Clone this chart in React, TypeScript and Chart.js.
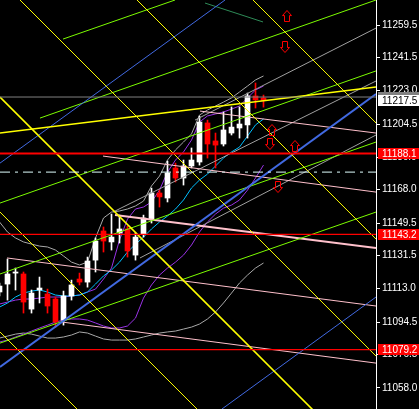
import React, { useEffect, useRef } from "react";
import { Chart, registerables } from "chart.js";

Chart.register(...registerables);

// ---- view range (bar index / price) ----
const X_MIN = 0.0625;
const X_MAX = 47.0625;
const Y_MIN = 11046.2;
const Y_MAX = 11273.4;

const PRICE_TICKS = [11259.5, 11241.5, 11223.0, 11204.5, 11186.0, 11168.0, 11149.5, 11131.5, 11113.0, 11094.5, 11076.5, 11058.0];

// ---- candles (bar index 0..33) ----
const OPEN = [11111.2, 11115.6, 11121.7, 11121.2, 11101.7, 11112.3, 11110.1, 11107.3, 11095.6, 11109.0, 11118.4, 11116.7, 11128.9, 11145.1, 11139.0, 11144.0, 11146.2, 11131.7, 11143.4, 11151.7, 11166.2, 11163.4, 11180.1, 11174.5, 11181.2, 11183.4, 11205.1, 11195.1, 11193.4, 11199.5, 11202.3, 11204.0, 11220.1, 11219.0];
const HIGH = [11116.2, 11129.5, 11124.5, 11122.3, 11112.3, 11119.5, 11112.8, 11108.4, 11111.7, 11117.8, 11121.7, 11130.6, 11141.2, 11147.3, 11154.5, 11153.9, 11147.8, 11144.0, 11153.9, 11168.9, 11167.8, 11183.9, 11182.8, 11184.5, 11191.2, 11208.9, 11206.7, 11199.5, 11211.2, 11214.0, 11214.0, 11221.7, 11227.3, 11220.6];
const LOW = [11109.0, 11106.7, 11112.3, 11099.5, 11099.5, 11105.1, 11099.5, 11091.7, 11092.8, 11106.7, 11115.1, 11113.9, 11122.3, 11133.4, 11134.5, 11138.4, 11130.6, 11128.9, 11141.7, 11149.5, 11158.4, 11161.2, 11172.3, 11170.6, 11180.1, 11181.7, 11185.6, 11180.1, 11192.3, 11198.4, 11196.7, 11196.7, 11213.4, 11213.9];
const CLOSE = [11114.5, 11121.2, 11122.3, 11105.6, 11110.6, 11113.4, 11103.4, 11094.5, 11109.0, 11115.1, 11116.7, 11128.4, 11139.5, 11139.5, 11141.7, 11146.2, 11134.0, 11141.7, 11152.3, 11166.2, 11164.0, 11177.3, 11174.5, 11181.2, 11184.5, 11205.6, 11193.4, 11192.8, 11201.2, 11202.8, 11204.5, 11220.1, 11217.9, 11217.5];

// ---- indicator curves (one value per bar) ----
const GRAY_UPPER = [11150.1, 11144.5, 11141.2, 11139.0, 11137.8, 11136.7, 11136.2, 11134.5, 11131.2, 11127.8, 11126.2, 11127.8, 11141.2, 11152.3, 11155.6, 11156.2, 11157.3, 11159.0, 11161.7, 11170.1, 11175.6, 11184.5, 11190.1, 11194.5, 11199.0, 11209.5, 11212.3, 11214.5, 11216.7, 11219.0, 11222.3, 11225.6, 11229.0, 11231.2];
const GRAY_LOWER = [11085.6, 11086.7, 11087.8, 11088.4, 11087.8, 11086.7, 11085.6, 11085.6, 11086.2, 11087.3, 11089.0, 11088.4, 11086.7, 11085.1, 11084.5, 11084.5, 11084.5, 11085.1, 11086.2, 11087.3, 11088.4, 11089.0, 11089.5, 11090.6, 11091.7, 11093.4, 11096.2, 11100.1, 11105.1, 11110.6, 11116.2, 11120.6, 11124.5, 11127.3];
const CYAN_MA = [11102.8, 11105.1, 11108.4, 11110.6, 11111.7, 11112.3, 11111.2, 11109.5, 11109.0, 11109.0, 11109.5, 11111.2, 11115.6, 11120.1, 11123.4, 11127.8, 11133.4, 11137.8, 11141.7, 11146.2, 11150.1, 11153.4, 11157.3, 11162.3, 11169.0, 11173.4, 11176.7, 11181.2, 11185.6, 11189.0, 11191.7, 11197.8, 11204.0, 11207.3];
const PURPLE_UPPER = [11104.5, 11105.6, 11106.7, 11107.3, 11107.3, 11107.8, 11108.4, 11108.4, 11108.4, 11109.0, 11109.5, 11111.2, 11112.8, 11118.4, 11124.5, 11140.1, 11151.7, 11157.3, 11158.4, 11161.2, 11167.8, 11177.8, 11184.5, 11189.0, 11195.6, 11205.6, 11209.0, 11210.1, 11211.2, 11212.8, 11214.5, 11219.0, 11223.4, 11225.6];
const PURPLE_LOWER = [11083.4, 11084.5, 11086.2, 11087.8, 11089.5, 11091.2, 11092.8, 11094.5, 11095.6, 11096.2, 11096.2, 11095.6, 11094.0, 11092.3, 11091.2, 11091.2, 11092.3, 11096.7, 11107.8, 11115.1, 11120.6, 11124.5, 11127.8, 11131.7, 11137.3, 11144.5, 11150.1, 11154.5, 11157.8, 11159.5, 11162.3, 11167.8, 11174.5, 11181.7];

// ---- drawn objects: [startBar, startPrice, endBar, endPrice] ----
const YELLOW_THIN = [
  [0.0625, 11089.0, 10, 11044.8],
  [0.0625, 11155.6, 25, 11044.8],
  [2.5625, 11273.4, 47.0625, 11075.6],
  [17.19, 11273.4, 47.0625, 11140.6],
  [31.69, 11273.4, 47.0625, 11205.1],
];
const YELLOW_THICK = [
  [0.0625, 11219.5, 39.2, 11045.6],
  [0.0625, 11199.5, 47.0625, 11225.1],
];
const GREEN_LINES = [
  [7.94, 11251.7, 21.94, 11273.4],
  [5.06, 11207.8, 47.0625, 11273.4],
  [0.0625, 11160.6, 47.0625, 11234.0],
  [0.0625, 11121.2, 47.0625, 11194.5],
  [0.0625, 11082.8, 47.0625, 11155.6],
];
const BLUE_THIN = [
  [0.0625, 11182.8, 28.19, 11273.4],
  [27.81, 11046.2, 47.0625, 11108.4],
];
const BLUE_THICK = [[0.0625, 11069.5, 47.0625, 11221.2]];
const PINK_THIN = [
  [25.06, 11211.7, 47.0625, 11199.5],
  [12.94, 11186.7, 47.0625, 11166.7],
  [0.94, 11130.1, 47.0625, 11103.4],
  [7.81, 11094.5, 47.0625, 11071.7],
];
const PINK_THICK = [[14.44, 11154.0, 47.0625, 11135.6]];
const GRAY_LINES = [
  [24.44, 11206.7, 47.0625, 11257.8],
  [14.19, 11155.6, 47.0625, 11228.4],
  [17.56, 11130.1, 47.0625, 11198.4],
];
const DARK_GREEN = [[25.69, 11271.7, 32.94, 11261.2]];

// ---- horizontal levels ----
const RED_LEVELS = [11188.1, 11143.2, 11079.2];
const ASK_LEVEL = 11219.5;
const DASH_LEVEL = 11177.8;
const LAST_PRICE = 11217.5;

// ---- arrows ----
const UP_ARROW_X = [35.9375, 34.0625, 36.9375];
const UP_ARROW_P = [11264.5, 11201.2, 11192.3];
const DOWN_ARROW_X = [35.6875, 33.8125, 34.8125];
const DOWN_ARROW_P = [11247.3, 11193.4, 11169.5];

const FONT = "'Liberation Sans', Arial, sans-serif";

function makeArrow(up: boolean) {
  const c = document.createElement("canvas");
  c.width = 10;
  c.height = 12;
  const g = c.getContext("2d")!;
  g.strokeStyle = "#FF0000";
  g.lineWidth = 1;
  const pts = [[5, 0.5], [9.5, 5.5], [7.5, 5.5], [7.5, 11.5], [2.5, 11.5], [2.5, 5.5], [0.5, 5.5]];
  g.beginPath();
  pts.forEach(([x, y], i) => {
    const yy = up ? y : 12 - y;
    if (i === 0) g.moveTo(x, yy);
    else g.lineTo(x, yy);
  });
  g.closePath();
  g.stroke();
  return c;
}

export default function App() {
  const ref = useRef<HTMLCanvasElement | null>(null);

  useEffect(() => {
    if (!ref.current) return;
    const bars = OPEN.map((_, i) => i);
    const bull = bars.map((i) => CLOSE[i] >= OPEN[i]);
    const candleColor = bull.map((b) => (b ? "#FFFFFF" : "#FF0000"));

    const seg = (r: number[]) => [{ x: r[0], y: r[1] }, { x: r[2], y: r[3] }];
    const lineSet = (rows: number[][], color: string, width: number, order: number) =>
      rows.map((r) => ({
        type: "line" as const,
        data: seg(r),
        borderColor: color,
        borderWidth: width,
        pointRadius: 0,
        fill: false,
        tension: 0,
        order,
      }));
    const curve = (vals: number[], color: string, order: number) => ({
      type: "line" as const,
      data: vals.map((v, i) => ({ x: bars[i], y: v })),
      borderColor: color,
      borderWidth: 1,
      pointRadius: 0,
      fill: false,
      tension: 0,
      order,
    });
    const level = (p: number, color: string, width: number, order: number, dash?: number[]) => ({
      type: "line" as const,
      data: [{ x: X_MIN, y: p }, { x: X_MAX, y: p }],
      borderColor: color,
      borderWidth: width,
      borderDash: dash || [],
      pointRadius: 0,
      fill: false,
      order,
    });

    const upImg = makeArrow(true);
    const downImg = makeArrow(false);

    const datasets: any[] = [
      curve(GRAY_UPPER, "#A9A9A9", 60),
      curve(GRAY_LOWER, "#A9A9A9", 60),
      curve(PURPLE_UPPER, "#9932E6", 59),
      curve(PURPLE_LOWER, "#9932E6", 59),
      curve(CYAN_MA, "#00BFFF", 58),
      {
        type: "bar",
        data: bars.map((i) => ({ x: i, y: [LOW[i], HIGH[i]] })),
        backgroundColor: candleColor,
        barThickness: 1,
        grouped: false,
        borderWidth: 0,
        order: 40,
      },
      {
        type: "bar",
        data: bars.map((i) => ({ x: i, y: [OPEN[i], CLOSE[i]] })),
        backgroundColor: candleColor,
        barThickness: 5,
        grouped: false,
        borderWidth: 0,
        order: 39,
      },
      ...lineSet(DARK_GREEN, "#2E8B57", 1, 30),
      ...lineSet(GRAY_LINES, "#A0A0A0", 1, 29),
      ...lineSet(PINK_THIN, "#FFC0CB", 1, 28),
      ...lineSet(PINK_THICK, "#FFC0CB", 2, 28),
      ...lineSet(GREEN_LINES, "#7CFC00", 1, 27),
      ...lineSet(BLUE_THIN, "#4169E1", 1, 26),
      ...lineSet(BLUE_THICK, "#4169E1", 2, 26),
      ...lineSet(YELLOW_THIN, "#FFFF00", 1, 25),
      ...lineSet(YELLOW_THICK, "#FFFF00", 1.6, 25),
      level(ASK_LEVEL, "#808080", 1, 12),
      level(DASH_LEVEL, "#E0FFFF", 1, 11, [10, 5, 3, 5]),
      ...RED_LEVELS.map((p, i) => level(p, "#FF0000", i === 0 ? 2 : 1.2, 10)),
      {
        type: "scatter",
        data: UP_ARROW_X.map((x, i) => ({ x, y: UP_ARROW_P[i] })),
        pointStyle: upImg,
        pointRadius: 6,
        order: 1,
      },
      {
        type: "scatter",
        data: DOWN_ARROW_X.map((x, i) => ({ x, y: DOWN_ARROW_P[i] })),
        pointStyle: downImg,
        pointRadius: 6,
        order: 1,
      },
    ];

    const boxes = {
      id: "priceBoxes",
      afterDraw(chart: any) {
        const { ctx } = chart;
        const y = chart.scales.y;
        const left = y.left + 2;
        const w = chart.width - left;
        const box = (p: number, bg: string, fg: string | null, text: string) => {
          const py = y.getPixelForValue(p);
          const top = Math.round(py - 5.5);
          ctx.save();
          ctx.fillStyle = bg;
          ctx.fillRect(left, top, w, 11);
          if (fg) {
            ctx.fillStyle = fg;
            ctx.font = `10px ${FONT}`;
            ctx.textAlign = "left";
            ctx.textBaseline = "middle";
            ctx.fillText(text, left + 4, top + 6);
          }
          ctx.restore();
        };
        box(ASK_LEVEL, "#808080", null, "");
        box(LAST_PRICE, "#FFFFFF", "#000000", LAST_PRICE.toFixed(1));
        RED_LEVELS.forEach((p) => box(p, "#FF0000", "#FFFFFF", p.toFixed(1)));
      },
    };

    const chart = new Chart(ref.current, {
      type: "line",
      data: { datasets },
      options: {
        animation: false,
        responsive: false,
        devicePixelRatio: 1,
        events: [],
        layout: { padding: 0, autoPadding: false },
        plugins: { legend: { display: false }, tooltip: { enabled: false } },
        scales: {
          x: {
            type: "linear",
            display: false,
            min: X_MIN,
            max: X_MAX,
            offset: false,
            afterBuildTicks: (s: any) => {
              s.ticks = [{ value: X_MIN }, { value: X_MAX }];
            },
          },
          y: {
            type: "linear",
            position: "right",
            min: Y_MIN,
            max: Y_MAX,
            afterBuildTicks: (s: any) => {
              s.ticks = PRICE_TICKS.map((v) => ({ value: v }));
            },
            afterFit: (s: any) => {
              s.width = 43;
              s.paddingTop = 0;
              s.paddingBottom = 0;
            },
            ticks: {
              color: "#FFFFFF",
              font: { family: FONT, size: 10 },
              padding: 2,
              autoSkip: false,
              maxRotation: 0,
              callback: (v: any) => Number(v).toFixed(1),
            },
            grid: { drawOnChartArea: false, drawTicks: true, tickLength: 4, color: "#FFFFFF" },
            border: { display: true, color: "#FFFFFF", width: 1 },
          },
        },
      } as any,
      plugins: [boxes],
    });
    return () => chart.destroy();
  }, []);

  return (
    <div style={{ position: "fixed", left: 0, top: 0, width: 419, height: 409, background: "#000000" }}>
      <canvas ref={ref} width={419} height={409} style={{ display: "block" }} />
    </div>
  );
}
